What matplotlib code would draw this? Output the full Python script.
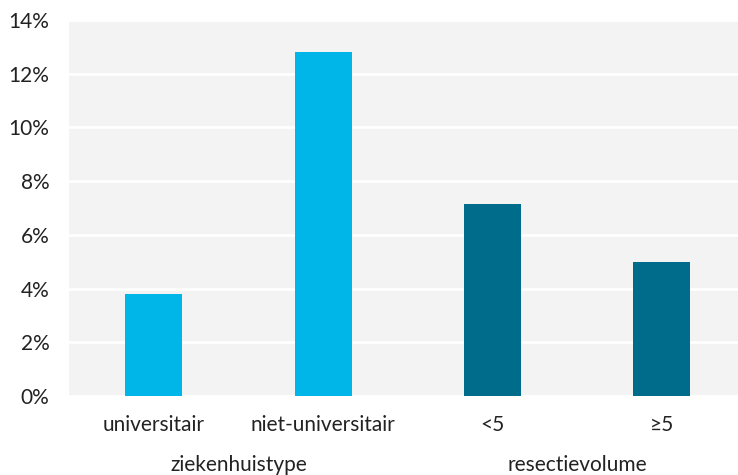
import numpy as np
import matplotlib.pyplot as plt
import matplotlib.transforms as mtransforms

# data
categories = ["universitair", "niet-universitair", "<5", "≥5"]
values = [3.8, 12.8, 7.15, 5.0]
groups = ["ziekenhuistype", "resectievolume"]
group_members = [[0, 1], [2, 3]]
bar_colors = ["#00B5E8", "#00B5E8", "#006C8C", "#006C8C"]
yticks = [0, 2, 4, 6, 8, 10, 12, 14]

plt.rcParams['font.family'] = ['Lato', 'DejaVu Sans']

fig = plt.figure(figsize=(7.38, 4.75), dpi=100)
ax = fig.add_axes([69 / 738, 1 - 396 / 475, 669 / 738, 376 / 475])
ax.set_facecolor("#F3F3F3")

x = np.arange(len(categories))
ax.bar(x, values, width=0.336, color=bar_colors, zorder=3)

ax.set_ylim(0, 14)
ax.set_xlim(-0.5, 3.45)
ax.set_yticks(yticks)
ax.set_yticklabels([f"{t}%" for t in yticks])
ax.set_xticks(x)
ax.set_xticklabels(categories)
ax.yaxis.grid(True, color="white", linewidth=2, zorder=1)
ax.set_axisbelow(True)
for s in ax.spines.values():
    s.set_visible(False)
ax.tick_params(axis="y", length=0, pad=14, labelsize=15, colors="#222222")
ax.tick_params(axis="x", length=0, pad=14, labelsize=15, colors="#222222")

# group labels under the tick labels
trans = mtransforms.blended_transform_factory(ax.transData, ax.transAxes)
for name, members in zip(groups, group_members):
    gx = np.mean([x[m] for m in members])
    ax.text(gx, -69 / 376, name, transform=trans, ha="center", va="center",
            fontsize=15, color="#222222")

fig.savefig("out.png", dpi=100)
